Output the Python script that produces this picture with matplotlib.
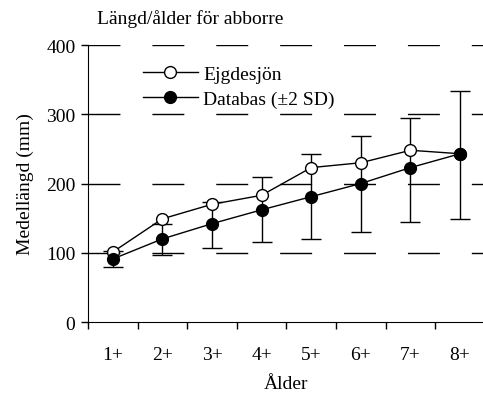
import matplotlib
matplotlib.use("Agg")
import matplotlib.pyplot as plt
import numpy as np

plt.rcParams['font.family'] = ['Liberation Serif', 'DejaVu Serif']
plt.rcParams['font.size'] = 14

# age classes
ages = ["1+", "2+", "3+", "4+", "5+", "6+", "7+", "8+"]
# mean length, Ejgdesjön
ejgdesjon = [101, 149, 170, 183, 223, 230, 248, 243]
# mean length, database, with +-2 SD bounds
databas = [91, 120, 142, 162, 181, 200, 223, 243]
databas_low = [80, 97, 107, 116, 120, 130, 145, 149]
databas_high = [102, 141, 173, 209, 243, 268, 295, 334]

x = np.arange(len(ages)) + 0.5
err = [np.array(databas) - np.array(databas_low), np.array(databas_high) - np.array(databas)]

fig = plt.figure(figsize=(4.83, 4.02), dpi=100)
ax = fig.add_axes([0.182, 0.1965, 0.822, 0.689])

# dashed grid
for v in [100, 200, 300, 400]:
    ax.axhline(v, color='black', lw=1, dashes=(23, 23), zorder=0)

ax.errorbar(x, databas, yerr=err, fmt='none', ecolor='black', elinewidth=1,
            capsize=7, capthick=1, zorder=2)
ax.plot(x, ejgdesjon, '-o', color='black', mfc='white', mec='black', ms=8.5,
        lw=1, label='Ejgdesjön', zorder=3)
ax.plot(x, databas, '-o', color='black', mfc='black', ms=8.5, lw=1,
        label='Databas (±2 SD)', zorder=4)

ax.set_xlim(0, len(ages))
ax.set_ylim(0, 400)
ax.set_yticks([0, 100, 200, 300, 400])
ax.set_xticks(x)
ax.set_xticklabels(ages)
ax.set_xticks(np.arange(len(ages)), minor=True)
ax.tick_params(axis='x', which='major', length=0, pad=17)
ax.tick_params(axis='x', which='minor', length=5, direction='out', width=1)
ax.tick_params(axis='y', length=5, direction='out', width=1, pad=4)

ax.spines['top'].set_visible(False)
ax.spines['right'].set_visible(False)

ax.set_ylabel('Medellängd (mm)', labelpad=9)
ax.set_xlabel('Ålder', labelpad=9)
fig.text(0.2, 0.953, 'Längd/ålder för abborre', ha='left', va='center')

ax.legend(loc='upper left', bbox_to_anchor=(0.139, 0.926), frameon=False,
          handlelength=2.8, handletextpad=0.3, labelspacing=0.35, borderpad=0,
          borderaxespad=0)

fig.savefig("out.png", dpi=100)
